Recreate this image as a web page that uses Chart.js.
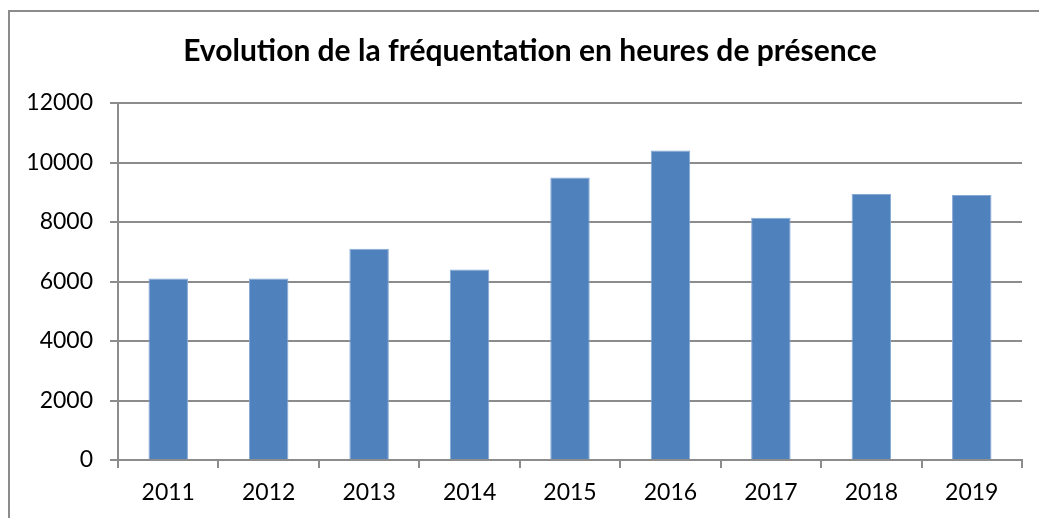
<!DOCTYPE html>
<html>
<head>
<meta charset="utf-8">
<script src="https://cdn.jsdelivr.net/npm/chart.js@4.4.1/dist/chart.umd.min.js"></script>
<style>
  html, body { margin: 0; padding: 0; background: #ffffff; overflow: hidden; }
  body { width: 1039px; height: 518px; position: relative; }
  #frame { position: absolute; left: 8px; top: 10px; width: 1060px; height: 560px; border: 2px solid #8c8c8c; box-sizing: border-box; }
  #cut { position: absolute; left: 0px; top: -26px; font: bold 26px Lato, sans-serif; color: #000; }
  #c { position: absolute; left: 0; top: 0; }
</style>
</head>
<body>
<div id="cut">are</div>
<div id="frame"></div>
<canvas id="c" width="1039" height="518"></canvas>
<script>
const titleText = "Evolution de la fréquentation en heures de présence";
const years = ["2011", "2012", "2013", "2014", "2015", "2016", "2017", "2018", "2019"];
const hours = [6100, 6100, 7100, 6400, 9500, 10400, 8140, 8940, 8910];
const yMin = 0, yMax = 12000, yStep = 2000;

const gridColor = '#8c8c8c';

const titlePlugin = {
  id: 'centredTitle',
  afterDraw(chart) {
    const ctx = chart.ctx;
    ctx.save();
    ctx.font = 'bold 30px Lato, sans-serif';
    ctx.fillStyle = '#000';
    ctx.textAlign = 'center';
    ctx.textBaseline = 'alphabetic';
    ctx.fillText(titleText, 530, 61);
    ctx.restore();
  }
};

new Chart(document.getElementById('c'), {
  type: 'bar',
  data: {
    labels: years,
    datasets: [{
      data: hours,
      backgroundColor: '#4f81bd',
      borderColor: '#86a9d6',
      borderWidth: 1,
      barPercentage: 0.393,
      categoryPercentage: 1.0
    }]
  },
  options: {
    responsive: false,
    animation: false,
    devicePixelRatio: 1,
    layout: { padding: { left: 0, right: 17, top: 103, bottom: 18 } },
    plugins: {
      legend: { display: false },
      tooltip: { enabled: false },
      title: { display: false }
    },
    scales: {
      x: {
        offset: true,
        grid: { display: true, offset: true, drawOnChartArea: false, drawTicks: true, tickLength: 8, color: gridColor, lineWidth: 2 },
        border: { display: true, color: gridColor, width: 2 },
        ticks: { color: '#000', font: { family: 'Lato', size: 23 }, padding: 11, maxRotation: 0 },
        afterFit: s => { s.height = 40; }
      },
      y: {
        min: yMin, max: yMax,
        grid: { color: gridColor, lineWidth: 2, tickLength: 8, drawTicks: true },
        border: { display: true, color: gridColor, width: 2 },
        ticks: { stepSize: yStep, color: '#000', font: { family: 'Lato', size: 23 }, padding: 17,
                 callback: v => String(v) },
        afterFit: s => { s.width = 118; }
      }
    }
  },
  plugins: [titlePlugin]
});
</script>
</body>
</html>
